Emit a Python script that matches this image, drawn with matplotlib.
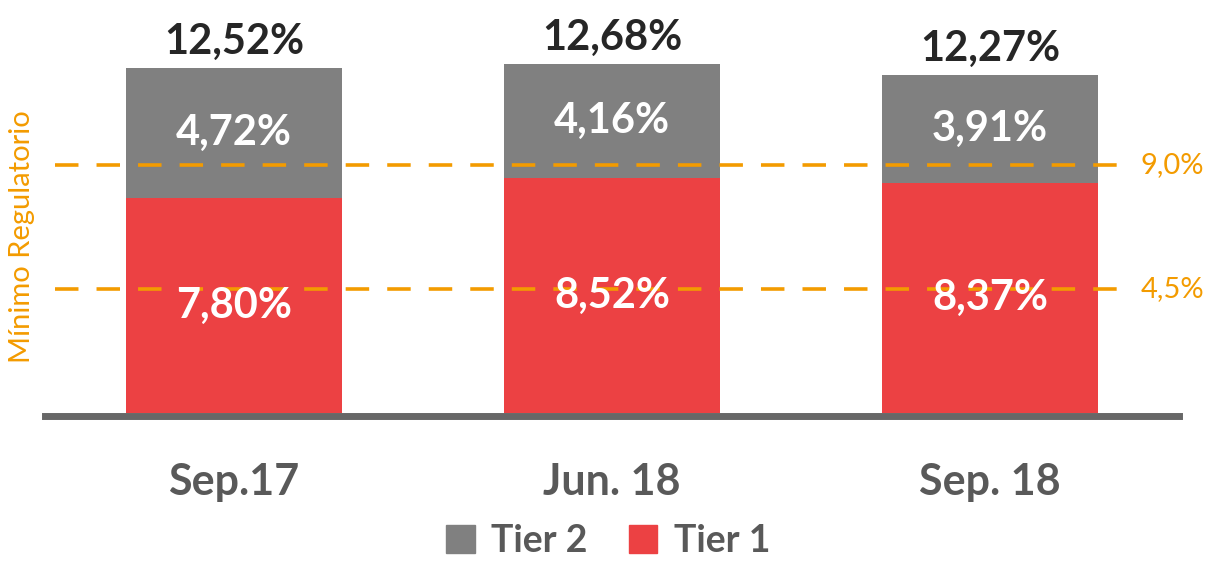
import matplotlib
matplotlib.use('Agg')
import matplotlib.pyplot as plt
from matplotlib.patches import Patch
import numpy as np

plt.rcParams['font.family'] = ['Lato', 'DejaVu Sans']

# datos
periodos = ['Sep.17', 'Jun. 18', 'Sep. 18']
tier1 = [7.80, 8.52, 8.37]
tier2 = [4.72, 4.16, 3.91]
totales = [12.52, 12.68, 12.27]
minimos = [9.0, 4.5]
minimos_txt = ['9,0%', '4,5%']

rojo = '#EC4143'
gris = '#808080'
naranja = '#F39B00'

def pct(v):
    return ('%.2f%%' % v).replace('.', ',')

fig = plt.figure(figsize=(12.17, 5.61), dpi=100)
# eje: base en y=413px, de x=45 a x=1179
ax = fig.add_axes([45 / 1217, (561 - 413) / 561, 1134 / 1217, 413 / 561])

for s in ['top', 'left', 'right']:
    ax.spines[s].set_visible(False)
ax.spines['bottom'].set_color('#676767')
ax.spines['bottom'].set_linewidth(5)
ax.spines['bottom'].set_position(('outward', 2.5))

x = np.arange(len(periodos))
ancho = 0.57
ax.bar(x, tier1, width=ancho, color=rojo, zorder=2)
ax.bar(x, tier2, width=ancho, bottom=tier1, color=gris, zorder=2)

for i in range(len(periodos)):
    ax.text(x[i], tier1[i] / 2, pct(tier1[i]), ha='center', va='center',
            color='white', fontsize=30, fontweight='bold', zorder=4)
    ax.text(x[i], tier1[i] + tier2[i] / 2, pct(tier2[i]), ha='center', va='center',
            color='white', fontsize=30, fontweight='bold', zorder=4)
    ax.annotate(pct(totales[i]), (x[i], totales[i]), xytext=(0, 5),
                textcoords='offset points', ha='center', va='bottom',
                color='#262626', fontsize=30, fontweight='bold')

# lineas de minimo regulatorio
for v, t in zip(minimos, minimos_txt):
    ax.plot([0.009, 0.959], [v, v], transform=ax.get_yaxis_transform(),
            color=naranja, lw=2.6, dashes=(6.5, 5), zorder=3, clip_on=False)
    ax.text(0.966, v, t, transform=ax.get_yaxis_transform(), ha='left',
            va='center', color=naranja, fontsize=21)

fig.text(22 / 1217, 1 - 237 / 561, 'Mínimo Regulatorio', rotation=90,
         ha='center', va='center', color=naranja, fontsize=21)

ax.set_xlim(-0.5, 2.5)
ax.set_ylim(0, 15.0)
ax.set_yticks([])
ax.set_xticks(x)
ax.set_xticklabels(periodos, fontsize=31, fontweight='bold', color='#595959')
ax.tick_params(axis='x', length=0, pad=33)

handles = [Patch(color=gris, label='Tier 2'), Patch(color=rojo, label='Tier 1')]
leg = fig.legend(handles=handles, loc='center', bbox_to_anchor=(0.5, 1 - 541 / 561),
                 ncol=2, frameon=False, handlelength=0.75, handleheight=0.75,
                 handletextpad=0.45, columnspacing=1.1, borderpad=0.2,
                 prop={'size': 27, 'weight': 'bold'})
for t in leg.get_texts():
    t.set_color('#595959')

plt.savefig('out.png', dpi=100)
